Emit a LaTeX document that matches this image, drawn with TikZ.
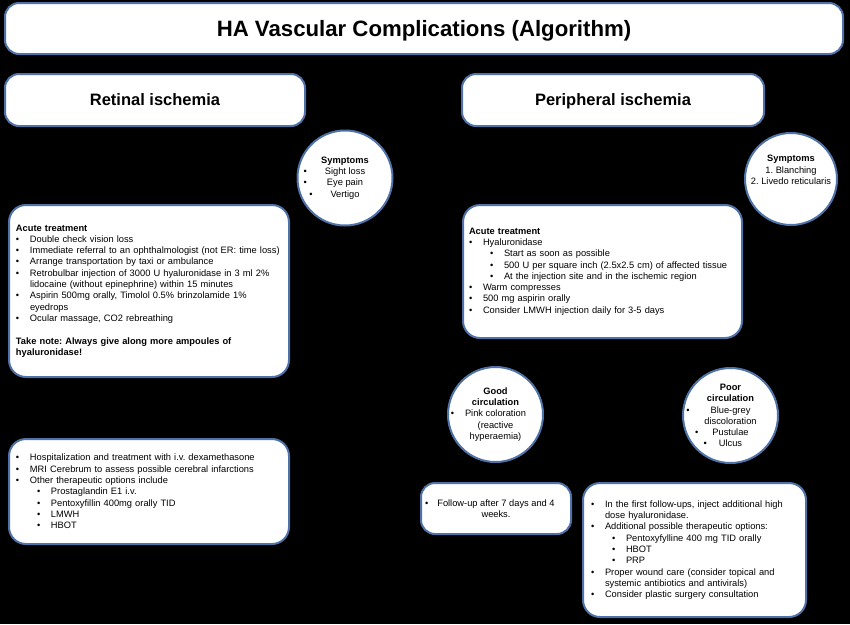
\documentclass[tikz,border=0pt]{standalone}
\usepackage{fontspec}
\setmainfont{Liberation Sans}
\usetikzlibrary{arrows.meta}

\definecolor{boxblue}{RGB}{79,114,168}

\newcommand{\itm}[1]{\makebox[14pt][l]{\textbullet}\mbox{#1}}
\newcommand{\sitm}[1]{\hspace*{21pt}\makebox[14pt][l]{\textbullet}\mbox{#1}}
\newcommand{\cnt}[1]{\hspace*{14pt}\mbox{#1}}
\newcommand{\hbul}[2]{\makebox[0pt][r]{\textbullet\hspace{#1}}#2}

\begin{document}
\frenchspacing
\begin{tikzpicture}[x=1pt,y=-1pt,>=Stealth,
		card/.style={draw=boxblue,line width=2pt,fill=white,rounded corners=14pt,inner sep=0pt},
		txt/.style={font=\fontsize{9.3}{11.3}\selectfont,align=left},
		circtxt/.style={font=\fontsize{9.3}{11.3}\selectfont,align=center},
		circ/.style={circle,draw=boxblue,line width=2pt,fill=white,inner sep=0pt,circtxt},
		arr/.style={black,line width=1pt,->,shorten <=2pt}]
		\fill[black] (0,0) rectangle (850,624);
		\node[card,minimum width=838pt,minimum height=51pt,text depth=0pt,font=\fontsize{22.2}{26}\selectfont\bfseries] (title) at (424,28.5) {HA Vascular Complications (Algorithm)};
		\node[card,minimum width=300pt,minimum height=52pt,text depth=0pt,font=\fontsize{16.5}{20}\selectfont\bfseries] (retinal) at (155,100) {Retinal ischemia};
		\node[card,minimum width=302pt,minimum height=52pt,text depth=0pt,font=\fontsize{16.5}{20}\selectfont\bfseries] (periph) at (613,100) {Peripheral ischemia};
		\node[circ,minimum size=95pt] (symR) at (345,178) {\textbf{Symptoms}\\ \hbul{18pt}{Sight loss}\\ \hbul{20pt}{Eye pain}\\ \hbul{18pt}{Vertigo}};
		\node[circ,minimum size=92pt,label={[name=symPtxt,circtxt,yshift=9pt]center:{\textbf{Symptoms}\\1. Blanching\\2. Livedo reticularis}}] (symP) at (791,179) {};
		\node[card,txt,rounded corners=17pt,minimum width=280pt,minimum height=172pt,text width=266pt] (acuteR) at (149,291) {\textbf{Acute treatment}\\
			\itm{Double check vision loss}\\
			\itm{Immediate referral to an ophthalmologist (not ER: time loss)}\\
			\itm{Arrange transportation by taxi or ambulance}\\
			\itm{Retrobulbar injection of 3000 U hyaluronidase in 3 ml 2\%}\\
			\cnt{lidocaine (without epinephrine) within 15 minutes}\\
			\itm{Aspirin 500mg orally, Timolol 0.5\% brinzolamide 1\%}\\
			\cnt{eyedrops}\\
			\itm{Ocular massage, CO2 rebreathing}\\[11.3pt]
			\textbf{Take note: Always give along more ampoules of}\\
			\textbf{hyaluronidase!}};
		\node[card,txt,rounded corners=17pt,minimum width=279pt,minimum height=133pt,text width=267pt] (acuteP) at (602.5,271.5) {\textbf{Acute treatment}\\
			\itm{Hyaluronidase}\\
			\sitm{Start as soon as possible}\\
			\sitm{500 U per square inch (2.5x2.5 cm) of affected tissue}\\
			\sitm{At the injection site and in the ischemic region}\\
			\itm{Warm compresses}\\
			\itm{500 mg aspirin orally}\\
			\itm{Consider LMWH injection daily for 3-5 days}};
		\node[card,txt,rounded corners=17pt,minimum width=280pt,minimum height=105pt,text width=266pt] (laterR) at (149,491.5) {\itm{Hospitalization and treatment with i.v. dexamethasone}\\
			\itm{MRI Cerebrum to assess possible cerebral infarctions}\\
			\itm{Other therapeutic options include}\\
			\sitm{Prostaglandin E1 i.v.}\\
			\sitm{Pentoxyfillin 400mg orally TID}\\
			\sitm{LMWH}\\
			\sitm{HBOT}};
		\node[circ,minimum size=95pt] (good) at (495.5,414.5) {\textbf{Good}\\\textbf{circulation}\\ \hbul{11pt}{Pink coloration}\\(reactive\\hyperaemia)};
		\node[circ,minimum size=95pt] (poor) at (730.5,415.5) {\textbf{Poor}\\\textbf{circulation}\\ \hbul{21pt}{Blue-grey}\\discoloration\\ \hbul{14pt}{Pustulae}\\ \hbul{12pt}{Ulcus}};
		\node[card,circtxt,minimum width=150pt,minimum height=51pt] (follow) at (496,508.5) {\hbul{9pt}{Follow-up after 7 days and 4}\\weeks.};
		\node[card,txt,rounded corners=17pt,minimum width=223pt,minimum height=134pt,text width=207pt] (care) at (694.5,550) {\itm{In the first follow-ups, inject additional high}\\
			\cnt{dose hyaluronidase.}\\
			\itm{Additional possible therapeutic options:}\\
			\sitm{Pentoxyfylline 400 mg TID orally}\\
			\sitm{HBOT}\\
			\sitm{PRP}\\
			\itm{Proper wound care (consider topical and}\\
			\cnt{systemic antibiotics and antivirals)}\\
			\itm{Consider plastic surgery consultation}};
		\draw[arr] ([xshift=8pt]acuteR.south) -- ([xshift=8pt]laterR.north);
		\draw[arr] (good.south) -- (good.south |- follow.north);
		\draw[arr] (poor.south) -- (poor.south |- care.north);
	\end{tikzpicture}
\end{document}
